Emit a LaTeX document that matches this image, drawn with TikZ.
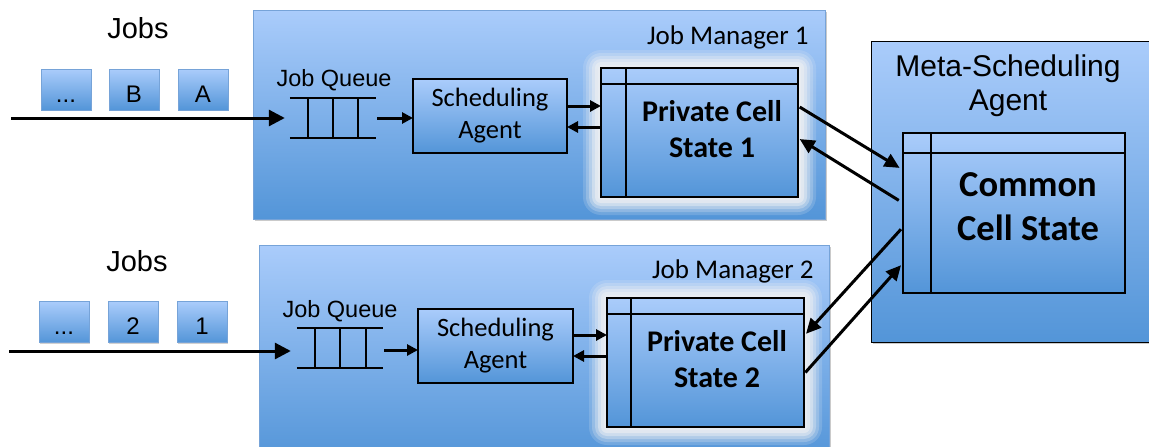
\documentclass[tikz,border=0pt]{standalone}
\usepackage{fontspec}
\setmainfont{Liberation Sans}
\newfontfamily\calfont{Carlito}
\usetikzlibrary{arrows.meta,shadows}
\definecolor{ltop}{HTML}{AACCFB}
\definecolor{lbot}{HTML}{5395D8}
\definecolor{cborder}{HTML}{76A3D8}
\definecolor{glowc}{HTML}{E9EDF2}
\pgfdeclarelayer{back}
\pgfdeclarelayer{glow}
\pgfsetlayers{back,glow,main}
\begin{document}
\begin{tikzpicture}[x=1pt,y=-1pt,
  bluefill/.style={top color=ltop,bottom color=lbot},
  container/.style={bluefill,draw=cborder,line width=0.8pt,inner sep=0pt,outer sep=0pt,anchor=north west,
     drop shadow={shadow xshift=1.5pt,shadow yshift=-1.5pt,opacity=0.35,fill=black!60}},
  jobbox/.style={bluefill,draw=cborder,line width=0.8pt,minimum width=50pt,minimum height=41pt,inner sep=0pt,
     text height=25pt,text depth=0pt,font=\fontsize{24}{26}\selectfont,
     drop shadow={shadow xshift=1.2pt,shadow yshift=-1.2pt,opacity=0.3,fill=black!60}},
  innerbox/.style={bluefill,draw=black,line width=1.8pt,inner sep=0pt,outer sep=0pt},
  sabox/.style={innerbox,minimum width=154pt,minimum height=74pt,align=center,
     font=\calfont\fontsize{26.5}{32}\selectfont},
  qline/.style={line width=1.8pt},
  bigarrow/.style={line width=3pt,-{Triangle[length=16pt,width=16pt]}},
  arr/.style={line width=3pt,-{Triangle[length=11pt,width=11pt]}},
  diag/.style={line width=3pt,-{Triangle[length=15pt,width=14pt]}},
  glowing/.style={fill=glowc}
]
\useasboundingbox (0,0) rectangle (1149,447);

% containers
\begin{pgfonlayer}{back}
\node[container,minimum width=572pt,minimum height=209pt] (jm1) at (253,10) {};
\node[container,minimum width=570pt,minimum height=215pt] (jm2) at (259,245) {};
\node[container,draw=black,line width=1pt,minimum width=290pt,minimum height=301pt] (meta) at (871,41) {};
\end{pgfonlayer}

\node[anchor=east,font=\calfont\fontsize{27}{30}\selectfont] (jm1t) at (812,37) {Job Manager 1};
\node[anchor=east,font=\calfont\fontsize{27}{30}\selectfont] (jm2t) at (817,271) {Job Manager 2};
\node[align=center,font=\fontsize{30}{34}\selectfont] (metat) at (1008,86) {Meta-Scheduling\\Agent};

% jobs
\node[font=\fontsize{29}{32}\selectfont] (jobs1) at (138,28) {Jobs};
\node[font=\fontsize{29}{32}\selectfont] (jobs2) at (137,261) {Jobs};
\node[jobbox] (j1a) at (66,89.5) {...};
\node[jobbox] (j1b) at (134,89.5) {B};
\node[jobbox] (j1c) at (203,89.5) {A};
\node[jobbox] (j2a) at (64,322) {...};
\node[jobbox] (j2b) at (133,322) {2};
\node[jobbox] (j2c) at (202,322) {1};

% queues
\node[font=\fontsize{23.5}{26}\selectfont] (q1t) at (334,80) {Job Queue};
\node[font=\fontsize{23.5}{26}\selectfont] (q2t) at (340,311) {Job Queue};
\node[minimum width=86pt,minimum height=40pt,inner sep=0pt] (q1) at (333,118) {};
\node[minimum width=86pt,minimum height=40pt,inner sep=0pt] (q2) at (340,348) {};
\draw[qline] (q1.north west) -- (q1.north east) (q1.south west) -- (q1.south east);
\draw[qline] (308,98) -- (308,138) (333,98) -- (333,138) (358,98) -- (358,138);
\draw[qline] (q2.north west) -- (q2.north east) (q2.south west) -- (q2.south east);
\draw[qline] (315,328) -- (315,368) (340,328) -- (340,368) (366,328) -- (366,368);

% scheduling agents
\node[sabox] (sa1) at (490,116) {Scheduling\\Agent};
\node[sabox,minimum width=155pt] (sa2) at (495.5,346) {Scheduling\\Agent};

% cell states
\node[innerbox,minimum width=197pt,minimum height=129pt] (pcs1) at (699.5,132.5) {};
\node[innerbox,minimum width=197pt,minimum height=129pt] (pcs2) at (705.5,362.5) {};
\node[innerbox,minimum width=222pt,minimum height=160pt] (ccs) at (1014,213) {};

\begin{pgfonlayer}{glow}
\foreach \e/\o in {18/0.18,15/0.25,12/0.35,9/0.5,6/0.7,3/0.9}{
  \fill[glowing,opacity=\o,rounded corners=\e pt] ([shift={(-\e pt,\e pt)}]pcs1.north west) rectangle ([shift={(\e pt,-\e pt)}]pcs1.south east);
  \fill[glowing,opacity=\o,rounded corners=\e pt] ([shift={(-\e pt,\e pt)}]pcs2.north west) rectangle ([shift={(\e pt,-\e pt)}]pcs2.south east);
}
\end{pgfonlayer}

\draw[qline] (pcs1.west |- 0,84) -- (pcs1.east |- 0,84) (626,0 |- pcs1.north) -- (626,0 |- pcs1.south);
\draw[qline] (pcs2.west |- 0,314) -- (pcs2.east |- 0,314) (631,0 |- pcs2.north) -- (631,0 |- pcs2.south);
\draw[qline] (ccs.west |- 0,153) -- (ccs.east |- 0,153) (931,0 |- ccs.north) -- (931,0 |- ccs.south);

\node[align=center,font=\calfont\bfseries\fontsize{30}{36}\selectfont] (pcs1t) at (712,129) {Private Cell\\State 1};
\node[align=center,font=\calfont\bfseries\fontsize{30}{36}\selectfont] (pcs2t) at (717,359) {Private Cell\\State 2};
\node[align=center,font=\calfont\bfseries\fontsize{36.5}{44}\selectfont] (ccst) at (1028,207) {Common\\Cell State};

% arrows
\coordinate (src1) at (11,118);
\coordinate (src2) at (9,351);
\draw[bigarrow,shorten >=5pt] (src1) -- (src1 -| q1.west);
\draw[bigarrow,shorten >=6pt] (src2) -- (src2 -| q2.west);
\draw[arr,shorten <=1pt] (q1.east) -- (q1.east -| sa1.west);
\draw[arr,shorten <=1pt] ([yshift=-2pt]q2.east) -- ([yshift=-2pt]q2.east -| sa2.west);
\draw[arr] ([yshift=10pt]sa1.east) -- ([yshift=10pt]sa1.east -| pcs1.west);
\draw[arr] ([yshift=-11pt]sa1.east -| pcs1.west) -- ([yshift=-11pt]sa1.east);
\draw[arr] ([yshift=11pt]sa2.east) -- ([yshift=11pt]sa2.east -| pcs2.west);
\draw[arr] ([yshift=-10pt]sa2.east -| pcs2.west) -- ([yshift=-10pt]sa2.east);

\draw[diag,shorten <=2pt,shorten >=4pt] ([yshift=26.5pt]pcs1.east) -- ([yshift=43pt]ccs.west);
\draw[diag,shorten <=5pt,shorten >=2pt] ([yshift=10pt]ccs.west) -- ([yshift=-5.5pt]pcs1.east);
\draw[diag,shorten <=3pt,shorten >=3pt] ([yshift=-14pt]ccs.west) -- ([yshift=26.5pt]pcs2.east);
\draw[diag,shorten <=2pt,shorten >=3pt] ([yshift=-11.5pt]pcs2.east) -- ([yshift=-50pt]ccs.west);
\end{tikzpicture}
\end{document}
